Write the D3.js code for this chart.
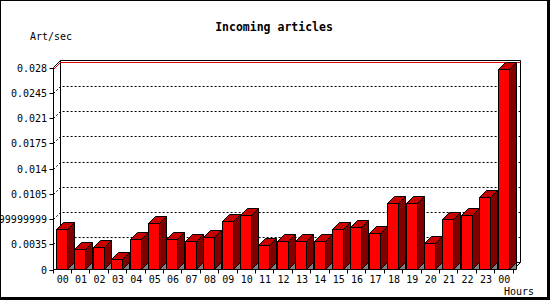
<!DOCTYPE html>
<html>
<head>
<meta charset="utf-8">
<script src="https://cdn.jsdelivr.net/npm/d3@7"></script>
<style>
  body { margin: 0; }
  svg { display: block; font-family: 'DejaVu Sans Mono', monospace; }
</style>
</head>
<body>
<svg id="chart" width="550" height="300"></svg>
<script>
const hours = ['00', '01', '02', '03', '04', '05', '06', '07', '08', '09', '10', '11',
  '12', '13', '14', '15', '16', '17', '18', '19', '20', '21', '22', '23', '00'];
const artPerSec = [0.00556, 0.00278, 0.00306, 0.00139, 0.00417, 0.00639, 0.00417, 0.00389,
  0.00444, 0.00667, 0.0075, 0.00333, 0.00389, 0.00389, 0.00389, 0.00556, 0.00583, 0.005,
  0.00917, 0.00917, 0.00361, 0.00694, 0.0075, 0.01, 0.02778];
const yTicks = [0, 0.0035, 0.007, 0.0105, 0.014, 0.0175, 0.021, 0.0245, 0.028];
const yTickLabels = ['0', '0.0035', '0.00699999999', '0.0105', '0.014', '0.0175',
  '0.021', '0.0245', '0.028'];

(() => {
  const svg = d3.select('#chart'),
      depth = 7,
      left = 53.5, right = 513.5, bottom = 269.5, top = 67.5;

  // frame with shadow
  svg.append('rect').attr('width', 550).attr('height', 300).attr('fill', '#000');
  svg.append('rect').attr('x', 1).attr('y', 1).attr('width', 546).attr('height', 296)
      .attr('fill', '#fff');

  const x = d3.scaleBand()
      .domain(d3.range(hours.length))
      .range([left, right])
      .paddingInner(0).paddingOuter(0);

  const y = d3.scaleLinear()
      .domain([0, 0.028])
      .range([bottom, top]);

  const g = svg.append('g');

  // back wall
  g.append('path')
      .attr('d', `M${left + depth},${bottom - depth}V${top - depth}H${right + depth}V${bottom - depth}`
          + `L${right},${bottom}`)
      .attr('fill', 'none').attr('stroke', '#000');
  g.append('line')
      .attr('x1', left).attr('y1', top).attr('x2', left + depth).attr('y2', top - depth)
      .attr('stroke', '#000');
  g.append('line')
      .attr('x1', left + depth).attr('y1', bottom - depth)
      .attr('x2', right + depth).attr('y2', bottom - depth)
      .attr('stroke', '#000');

  // grid lines
  g.append('g').selectAll('path')
      .data(yTicks.slice(1, -1))
      .enter().append('path')
      .attr('d', d => `M${left},${Math.round(y(d)) + 0.5}l${depth},${-depth}H${right + depth}`)
      .attr('fill', 'none')
      .attr('stroke', '#000')
      .attr('stroke-dasharray', '2,2');

  // max line
  const maxY = Math.round(y(d3.max(artPerSec))) + 0.5;
  g.append('path')
      .attr('d', `M${left},${maxY}l${depth},${-depth}H${right + depth}`)
      .attr('fill', 'none')
      .attr('stroke', '#e00000');

  // bars
  const bars = g.append('g').selectAll('g')
      .data(artPerSec)
      .enter().append('g');

  const bx = (d, i) => Math.floor(x(i) + 3) + 0.5;
  const bw = 11;
  const by = d => Math.round(y(d)) + 0.5;

  bars.append('path')
      .attr('d', (d, i) => {
        const x0 = bx(d, i) + bw;
        return `M${x0},${bottom}L${x0 + depth},${bottom - depth}V${bottom}Z`;
      })
      .attr('fill', '#808080')
      .attr('stroke', '#000');

  bars.append('path')
      .attr('d', (d, i) => {
        const x0 = bx(d, i) + bw, y0 = by(d);
        return `M${x0},${y0}l${depth},${-depth}V${bottom - depth}L${x0},${bottom}Z`;
      })
      .attr('fill', '#800000')
      .attr('stroke', '#000');

  bars.append('path')
      .attr('d', (d, i) => {
        const x0 = bx(d, i), y0 = by(d);
        return `M${x0},${y0}l${depth},${-depth}h${bw}l${-depth},${depth}Z`;
      })
      .attr('fill', '#c80000')
      .attr('stroke', '#000');

  bars.append('rect')
      .attr('x', bx)
      .attr('y', by)
      .attr('width', bw)
      .attr('height', d => bottom - by(d))
      .attr('fill', '#ff0000')
      .attr('stroke', '#000');

  // axes
  g.append('line')
      .attr('x1', left).attr('y1', top).attr('x2', left).attr('y2', bottom)
      .attr('stroke', '#000');
  g.append('line')
      .attr('x1', left).attr('y1', bottom).attr('x2', right).attr('y2', bottom)
      .attr('stroke', '#000');

  const yAxis = g.append('g');
  const yTick = yAxis.selectAll('g')
      .data(yTicks)
      .enter().append('g')
      .attr('transform', d => `translate(0,${Math.round(y(d)) + 0.5})`);
  yTick.append('line')
      .attr('x1', left - 4).attr('x2', left)
      .attr('stroke', '#000');
  yTick.append('text')
      .attr('x', 47)
      .attr('dy', '0.35em')
      .attr('text-anchor', 'end')
      .attr('font-size', 10)
      .text((d, i) => yTickLabels[i]);

  const xAxis = g.append('g');
  xAxis.selectAll('line')
      .data(d3.range(hours.length + 1))
      .enter().append('line')
      .attr('x1', i => Math.round(left + i * x.step()) - 0.5)
      .attr('x2', i => Math.round(left + i * x.step()) - 0.5)
      .attr('y1', bottom).attr('y2', bottom + 4)
      .attr('stroke', '#000');
  xAxis.selectAll('text')
      .data(hours)
      .enter().append('text')
      .attr('x', (d, i) => x(i) + x.bandwidth() / 2)
      .attr('y', 283)
      .attr('text-anchor', 'middle')
      .attr('font-size', 10)
      .text(d => d);

  svg.append('text')
      .attr('x', 274).attr('y', 31)
      .attr('text-anchor', 'middle')
      .attr('font-size', 11.5)
      .attr('font-weight', 'bold')
      .text('Incoming articles');
  svg.append('text')
      .attr('x', 30).attr('y', 40)
      .attr('font-size', 10)
      .text('Art/sec');
  svg.append('text')
      .attr('x', 504).attr('y', 295)
      .attr('font-size', 10)
      .text('Hours');
})();
</script>
</body>
</html>
